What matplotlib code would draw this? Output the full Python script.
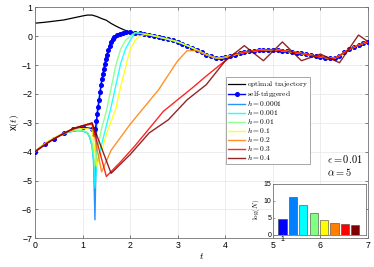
import matplotlib
matplotlib.use('Agg')
import matplotlib.pyplot as plt

plt.rcParams['mathtext.fontset'] = 'cm'
plt.rcParams['font.family'] = ['Liberation Sans', 'DejaVu Sans']

# shared tail (all trajectories converge here)
tail_t = [2.1, 2.2, 2.3, 2.4, 2.5, 2.6, 2.7, 2.8, 2.9, 3.0, 3.1, 3.2, 3.3, 3.4, 3.5, 3.6, 3.7, 3.8,
          3.9, 4.0, 4.1, 4.2, 4.3, 4.4, 4.5, 4.6, 4.7, 4.8, 4.9, 5.0, 5.1, 5.2, 5.3, 5.4, 5.5, 5.6,
          5.7, 5.8, 5.9, 6.0, 6.1, 6.2, 6.3, 6.4, 6.5, 6.6, 6.7, 6.8, 6.9, 7.0]
tail_x = [0.12, 0.10, 0.08, 0.05, 0.01, -0.03, -0.07, -0.11, -0.15, -0.20, -0.26, -0.33, -0.40,
          -0.48, -0.56, -0.64, -0.70, -0.75, -0.76, -0.73, -0.69, -0.64, -0.60, -0.56, -0.53, -0.51,
          -0.49, -0.48, -0.47, -0.47, -0.48, -0.50, -0.52, -0.55, -0.57, -0.60, -0.63, -0.66, -0.69,
          -0.71, -0.74, -0.77, -0.76, -0.68, -0.56, -0.46, -0.38, -0.31, -0.25, -0.19]

# optimal trajectory (before it joins the tail)
opt_t = [0, 0.2, 0.4, 0.6, 0.8, 1.0, 1.1, 1.2, 1.3, 1.4, 1.5, 1.6, 1.7, 1.8, 1.9, 2.0]
opt_x = [0.45, 0.48, 0.52, 0.56, 0.63, 0.70, 0.73, 0.73, 0.68, 0.61, 0.55, 0.44, 0.35, 0.27, 0.20, 0.15]

# self-triggered
st_t = [0, 0.2, 0.4, 0.6, 0.8, 1.0, 1.2, 1.24, 1.27, 1.29, 1.31, 1.33, 1.35, 1.37, 1.39, 1.41, 1.43,
        1.45, 1.47, 1.49, 1.51, 1.54, 1.57, 1.60, 1.63, 1.67, 1.72, 1.78, 1.85, 1.92, 2.0]
st_x = [-4.0, -3.74, -3.56, -3.35, -3.22, -3.15, -3.2, -3.38, -3.2, -2.95, -2.7, -2.45, -2.2, -1.95,
        -1.7, -1.5, -1.3, -1.12, -0.95, -0.8, -0.65, -0.48, -0.33, -0.2, -0.1, -0.02, 0.04, 0.08,
        0.11, 0.13, 0.13]

# sampled implementations, values before joining the tail
h1_t = [0, 0.1, 0.2, 0.3, 0.4, 0.5, 0.6, 0.7, 0.8, 0.9, 1.0, 1.1, 1.15, 1.2, 1.23, 1.26, 1.3, 1.4,
        1.5, 1.6, 1.7, 1.8, 2.0]
h1_x = [-4.0, -3.86, -3.74, -3.63, -3.54, -3.46, -3.39, -3.33, -3.29, -3.27, -3.28, -3.35, -3.5,
        -3.8, -4.3, -6.36, -2.7, -1.5, -0.7, -0.2, 0.02, 0.1, 0.13]

h2_t = [0, 0.1, 0.2, 0.3, 0.4, 0.5, 0.6, 0.7, 0.8, 0.9, 1.0, 1.1, 1.15, 1.2, 1.23, 1.26, 1.3, 1.4,
        1.5, 1.6, 1.7, 1.8, 1.9, 2.0]
h2_x = [-4.0, -3.86, -3.74, -3.63, -3.54, -3.46, -3.39, -3.33, -3.29, -3.27, -3.28, -3.35, -3.5,
        -3.8, -4.3, -5.26, -4.4, -3.75, -3.1, -2.45, -1.7, -0.95, -0.45, -0.15]

h3_t = [0, 0.1, 0.2, 0.3, 0.4, 0.5, 0.6, 0.7, 0.8, 0.9, 1.0, 1.1, 1.15, 1.2, 1.23, 1.26, 1.3, 1.4,
        1.5, 1.6, 1.7, 1.8, 1.9, 2.0]
h3_x = [-4.0, -3.86, -3.74, -3.62, -3.53, -3.45, -3.38, -3.32, -3.28, -3.26, -3.27, -3.33, -3.45,
        -3.7, -4.1, -4.5, -4.0, -3.2, -2.6, -1.8, -1.0, -0.45, -0.15, 0.0]

h4_t = [0, 0.1, 0.2, 0.3, 0.4, 0.5, 0.6, 0.7, 0.8, 0.9, 1.0, 1.1, 1.2, 1.3, 1.4, 1.5, 1.6, 1.7,
        1.8, 1.9, 2.0, 2.1, 2.2, 2.3]
h4_x = [-4.0, -3.86, -3.73, -3.62, -3.52, -3.43, -3.36, -3.3, -3.25, -3.22, -3.2, -3.2, -3.25,
        -4.5, -4.0, -3.4, -2.95, -2.5, -1.75, -1.1, -0.45, -0.15, 0.0, 0.05]

h5_t = [0, 0.2, 0.4, 0.6, 0.8, 1.0, 1.2, 1.4, 1.6, 1.8, 2.0, 2.2, 2.4, 2.6, 2.8, 3.0, 3.2, 3.4, 3.6]
h5_x = [-4.0, -3.74, -3.55, -3.36, -3.2, -3.1, -3.05, -4.7, -3.95, -3.5, -3.05, -2.65, -2.25,
        -1.85, -1.35, -0.85, -0.5, -0.5, -0.65]

h6_t = [0, 0.3, 0.6, 0.9, 1.2, 1.5, 1.8, 2.1, 2.4, 2.7, 3.0, 3.3, 3.6, 3.9, 4.2]
h6_x = [-4.0, -3.65, -3.38, -3.15, -3.03, -4.86, -4.35, -3.8, -3.2, -2.6, -2.2, -1.8, -1.38,
        -0.98, -0.6]

h7_t = [0, 0.4, 0.8, 1.2, 1.6, 2.0, 2.4, 2.8, 3.2, 3.6, 4.0, 4.4, 4.8, 5.2, 5.6, 6.0, 6.4, 6.8, 7.0]
h7_x = [-4.0, -3.55, -3.2, -3.0, -4.75, -4.1, -3.35, -2.9, -2.2, -1.68, -0.85, -0.33, -0.85, -0.2,
        -0.85, -0.62, -0.92, 0.04, -0.19]

h_labels = ['0.0001', '0.001', '0.01', '0.1', '0.2', '0.3', '0.4']
h_colors = ['#0080ff', '#00ffff', '#80ff80', '#ffff00', '#ff8000', '#ff0000', '#800000']

# inset: log of number of samples
bar_vals = [4.7, 11.1, 8.8, 6.5, 4.3, 3.6, 3.2, 2.9]
bar_colors = ['#0000ff'] + h_colors


def with_tail(t, x):
    tt = list(t) + [v for v in tail_t if v > t[-1]]
    xx = list(x) + [v for u, v in zip(tail_t, tail_x) if u > t[-1]]
    return tt, xx


fig = plt.figure(figsize=(3.74, 2.67), dpi=100)
ax = fig.add_axes([0.0936, 0.1075, 0.8904, 0.8652])

handles = []
t, x = with_tail(opt_t, opt_x)
handles.append(ax.plot(t, x, color='k', lw=0.9, zorder=2,
                       label=r'$\mathrm{optimal\ trajectory}$')[0])

curves = [(h1_t, h1_x), (h2_t, h2_x), (h3_t, h3_x), (h4_t, h4_x),
          (h5_t, h5_x), (h6_t, h6_x), (h7_t, h7_x)]
h_lines = []
for i, (ht, hx) in enumerate(curves):
    if ht[-1] < 7:
        ht, hx = with_tail(ht, hx)
    z = 2.5 if i == 0 else 4 + i
    ln, = ax.plot(ht, hx, color=h_colors[i], lw=1.0, alpha=0.85, zorder=z,
                  label=r'$h = %s$' % h_labels[i])
    h_lines.append(ln)

t, x = with_tail(st_t, st_x)
st_line, = ax.plot(t, x, color='#0000ff', lw=1.0, marker='o', ms=2.6, mec='#0000ff',
                   mfc='#0000ff', zorder=3, label=r'$\mathrm{self}$-$\mathrm{triggered}$')
handles.append(st_line)
handles += h_lines

ax.set_xlim(0, 7)
ax.set_ylim(-7, 1)
ax.set_xticks(range(0, 8))
ax.set_yticks(range(-7, 2))
ax.tick_params(direction='in', length=2.5, width=0.5, labelsize=6.3, top=True, right=True,
               color='0.3', pad=2)
ax.grid(True, color='0.9', lw=0.5)
for s in ax.spines.values():
    s.set_color('0.45')
    s.set_linewidth(0.6)
ax.set_xlabel(r'$t$', fontsize=7, labelpad=1)
ax.set_ylabel(r'x$(t)$', fontsize=7, labelpad=1)

leg = ax.legend(handles=handles, loc='upper left', bbox_to_anchor=(0.574, 0.697),
                borderaxespad=0, prop={'family': 'cmr10', 'size': 5.4}, fancybox=False,
                edgecolor='0.6', framealpha=1, handlelength=2.3, handletextpad=0.2,
                labelspacing=0.0, borderpad=0.25)
leg.get_frame().set_linewidth(0.6)

ax.text(0.877, 0.345, r'$\epsilon = 0.01$', transform=ax.transAxes, fontsize=7.5, va='center')
ax.text(0.877, 0.289, r'$\alpha = 5$', transform=ax.transAxes, fontsize=7.5, va='center')

ins = fig.add_axes([0.729, 0.1199, 0.2487, 0.191])
ins.bar(range(1, 9), bar_vals, width=0.8, color=bar_colors, edgecolor='0.25', linewidth=0.4)
ins.set_xlim(0.05, 9.0)
ins.set_ylim(0, 15)
ins.set_xticks([1])
ins.set_yticks([0, 5, 10, 15])
ins.tick_params(direction='in', length=1.5, width=0.4, labelsize=5, pad=1, color='0.3')
ins.set_ylabel(r'$\log(N)$', fontsize=5, labelpad=1)
for s in ins.spines.values():
    s.set_color('0.45')
    s.set_linewidth(0.6)

fig.savefig('out.png', dpi=100)
